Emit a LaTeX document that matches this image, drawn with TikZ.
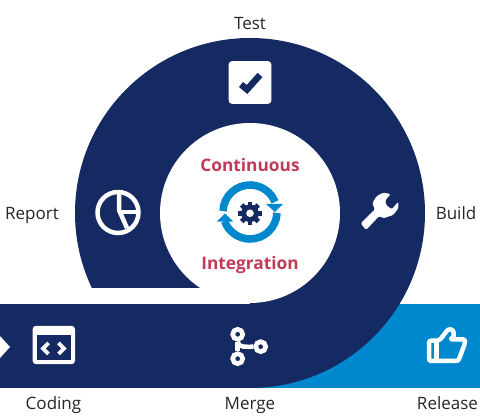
\documentclass[tikz,border=0pt]{standalone}
\usepackage{fontspec}
\setmainfont{Open Sans}
\definecolor{navyblue}{HTML}{152A63}
\definecolor{skyblue}{HTML}{0088CE}
\definecolor{rosered}{HTML}{C13B59}
\tikzset{
  steplabel/.style={text=black!85,inner sep=0pt,anchor=base,font=\fontsize{12.1}{14}\selectfont},
  titlelabel/.style={text=rosered,inner sep=0pt,anchor=base,font=\fontsize{12.3}{14}\selectfont\bfseries},
  iconline/.style={draw=white,line width=3.2pt,line join=round},
  iconbox/.style={fill=white,rounded corners=2.5pt,inner sep=0pt},
  mergering/.style={circle,draw=white,line width=3.3pt,inner sep=0pt,minimum size=0.25cm},
  cycleline/.style={draw=skyblue,line width=5.4pt},
  gearline/.style={draw=navyblue,line width=3.4pt}
}
\usetikzlibrary{calc}
\begin{document}
\begin{tikzpicture}[x=0.025cm,y=0.025cm]
  \useasboundingbox (0,0) rectangle (480,418);
  \fill[skyblue] (250,30) rectangle (480,114);
  \fill[navyblue] (250,205) circle (175);
  \fill[white] (0,114) rectangle (250,130);
  \fill[navyblue] (0,30) rectangle (250,114);
  \fill[white] (250,205) circle (90);
  \fill[white] (0,82) -- (10,71) -- (0,60) -- cycle;

  \node[steplabel] (Test) at (250,388) {Test};
  \node[steplabel] (Report) at (32,198) {Report};
  \node[steplabel] (Build) at (456,198) {Build};
  \node[steplabel] (Coding) at (53.5,8.5) {Coding};
  \node[steplabel] (Merge) at (250,8.5) {Merge};
  \node[steplabel] (Release) at (447.5,8.5) {Release};
  \node[titlelabel] (Continuous) at (250,246.3) {Continuous};
  \node[titlelabel] (Integration) at (250,148) {Integration};

  \node[iconbox,minimum size=1.07cm] (TestBox) at (250,335.5) {};
  \draw[navyblue,line width=4.6pt] (241,333.5) -- (247,328.5) -- (260,343);

  \draw[iconline] (118,205.5) circle (20.5);
  \draw[iconline] (119,226) -- (119,208) -- (127,190);
  \draw[iconline] (119,206) -- (138,206);

  \fill[white,rounded corners=1pt] (360.7,194.7) -- (366,188) -- (379.3,202) -- (383.3,199.7)
    -- (393.3,203) -- (398.3,209.7) -- (398.3,216.3) -- (391.7,208.7) -- (386,213) -- (385.5,218)
    -- (390.7,224) -- (383.3,225.3) -- (376.7,222) -- (372.3,214.7) -- (375,208.7) -- cycle;

  \node[iconbox,minimum width=1.06cm,minimum height=0.96cm] (CodeBox) at (53.8,73) {};
  \node[fill=navyblue,inner sep=0pt,minimum width=0.84cm,minimum height=0.625cm] (CodeInner) at (54,70.5) {};
  \draw[white,line width=2.7pt] (48.5,75) -- (43,69.5) -- (48.5,64);
  \draw[white,line width=2.7pt] (58.5,75) -- (64,69.5) -- (58.5,64);

  \node[mergering] (MergeTop) at (237.7,83.7) {};
  \node[mergering] (MergeBottom) at (237.7,59.3) {};
  \node[mergering] (MergeRight) at (260.7,71.3) {};
  \draw[iconline] (MergeTop) -- (MergeBottom);
  \draw[iconline] (MergeTop.south) to[out=-90,in=180] (MergeRight.west);

  \draw[iconline,rounded corners=1.5pt] (429,57) -- (429,77.3) -- (439.3,77.3) -- (448.3,89)
    -- (453.3,88) -- (454,81.3) -- (450,78.7) -- (465,78.7) -- (465,74.7) -- (458.3,57) -- cycle;
  \draw[iconline] (436.7,77.3) -- (436.7,57);

  \coordinate (CycleCenter) at (250,206);
  \draw[cycleline] ($(CycleCenter)+(178:27)$) arc (178:22:27);
  \draw[cycleline] ($(CycleCenter)+(-2:27)$) arc (-2:-160:27);
  \fill[skyblue] (266,214) -- (283,214) -- (275,206) -- cycle;
  \fill[skyblue] (216.7,196.3) -- (233.3,196.3) -- (225,204.7) -- cycle;

  \coordinate (GearCenter) at (250,204.7);
  \draw[gearline] ($(GearCenter)+(0:11.7)$) -- ($(GearCenter)+(180:11.7)$);
  \draw[gearline] ($(GearCenter)+(45:11.7)$) -- ($(GearCenter)+(225:11.7)$);
  \draw[gearline] ($(GearCenter)+(90:11.7)$) -- ($(GearCenter)+(270:11.7)$);
  \draw[gearline] ($(GearCenter)+(135:11.7)$) -- ($(GearCenter)+(315:11.7)$);
  \fill[navyblue] (GearCenter) circle (8.8);
  \fill[white] (GearCenter) circle (3.8);
\end{tikzpicture}
\end{document}
